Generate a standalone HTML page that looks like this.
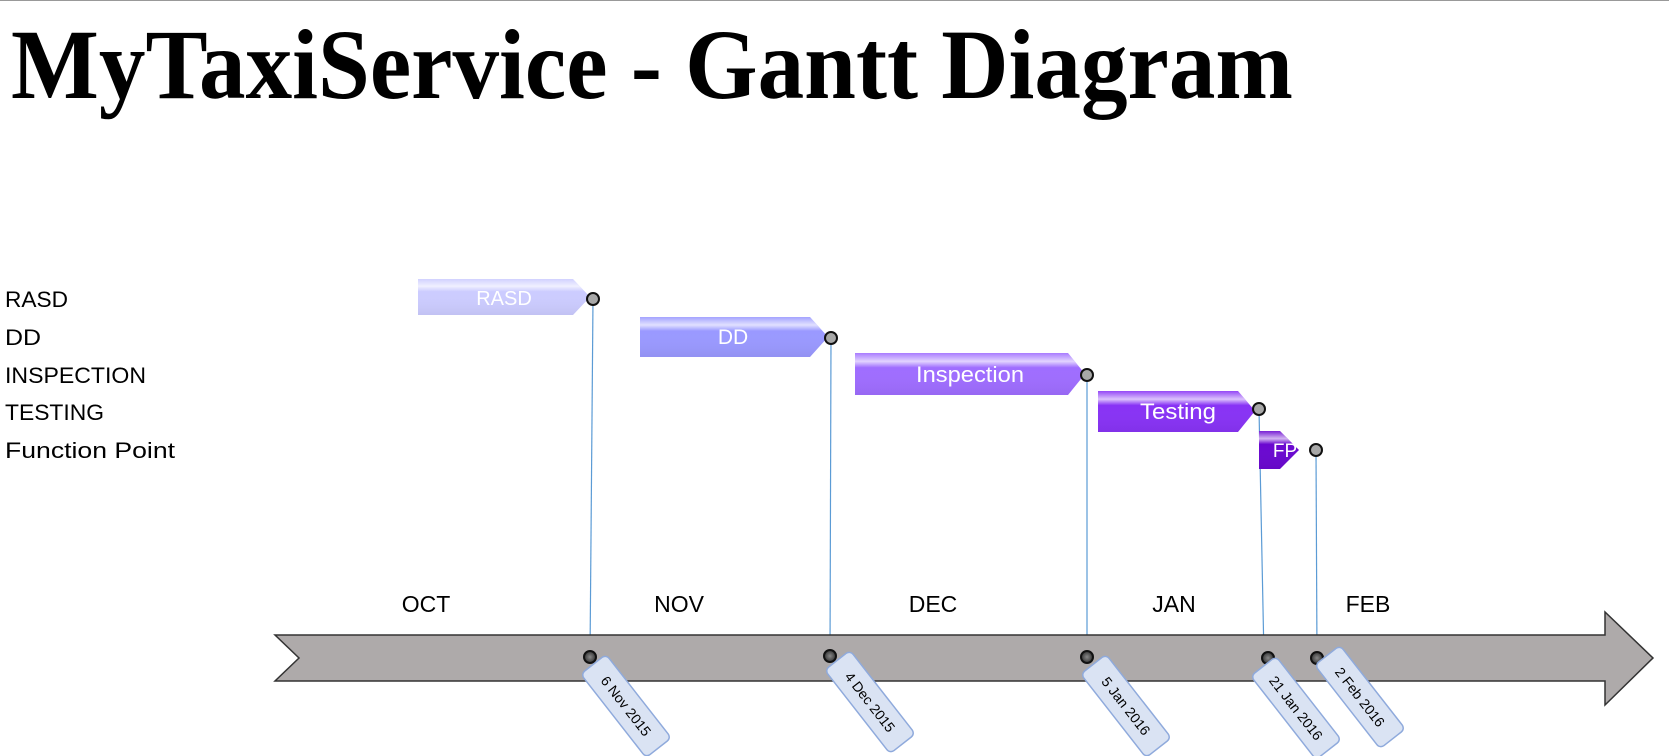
<!DOCTYPE html>
<html><head><meta charset="utf-8"><style>
html,body{margin:0;padding:0;background:#fff;}
svg{display:block;}
</style></head><body>
<svg width="1669" height="756" viewBox="0 0 1669 756" xmlns="http://www.w3.org/2000/svg">
<defs>
<linearGradient id="hl" x1="0" y1="0" x2="0" y2="1">
<stop offset="0" stop-color="#fff" stop-opacity="0.1"/>
<stop offset="0.2" stop-color="#fff" stop-opacity="0.7"/>
<stop offset="0.35" stop-color="#fff" stop-opacity="0"/>
<stop offset="1" stop-color="#000" stop-opacity="0.05"/>
</linearGradient>
<radialGradient id="dot"><stop offset="0" stop-color="#888"/><stop offset="1" stop-color="#333"/></radialGradient>
</defs>
<rect x="0" y="0" width="1669" height="1" fill="#999"/>
<text x="11" y="98" font-family="Liberation Serif, serif" font-weight="bold" font-size="100" textLength="1282" lengthAdjust="spacingAndGlyphs">MyTaxiService - Gantt Diagram</text>

<g font-family="Liberation Sans, sans-serif" font-size="22" fill="#000">
<text x="5" y="307" textLength="63" lengthAdjust="spacingAndGlyphs">RASD</text>
<text x="5" y="345" textLength="36" lengthAdjust="spacingAndGlyphs">DD</text>
<text x="5" y="383" textLength="141" lengthAdjust="spacingAndGlyphs">INSPECTION</text>
<text x="5" y="420" textLength="99" lengthAdjust="spacingAndGlyphs">TESTING</text>
<text x="5" y="458" textLength="170" lengthAdjust="spacingAndGlyphs">Function Point</text>
</g>

<g stroke="#5b9bd5" stroke-width="1.2">
<line x1="593" y1="299" x2="590" y2="657"/>
<line x1="831" y1="338" x2="830" y2="656"/>
<line x1="1087" y1="375" x2="1087" y2="657"/>
<line x1="1259" y1="409" x2="1264" y2="658"/>
<line x1="1316" y1="450" x2="1317" y2="658"/>
</g>

<path d="M275 635 L1605 635 L1605 612 L1653 658 L1605 705 L1605 681 L275 681 L299 658 Z" fill="#aeaaaa" stroke="#333" stroke-width="1.5"/>

<g font-family="Liberation Sans, sans-serif" fill="#fff" text-anchor="middle">
<path d="M418 279 H573 L590 297 L573 315 H418 Z" fill="#ccccff"/>
<path d="M418 279 H573 L590 297 L573 315 H418 Z" fill="url(#hl)"/>
<text x="504" y="305" font-size="20">RASD</text>
<path d="M640 317 H810 L828 337 L810 357 H640 Z" fill="#9a99ff"/>
<path d="M640 317 H810 L828 337 L810 357 H640 Z" fill="url(#hl)"/>
<text x="733" y="344" font-size="21">DD</text>
<path d="M855 353 H1068 L1085 374 L1068 395 H855 Z" fill="#9f6dff"/>
<path d="M855 353 H1068 L1085 374 L1068 395 H855 Z" fill="url(#hl)"/>
<text x="970" y="382" font-size="22" textLength="108" lengthAdjust="spacingAndGlyphs">Inspection</text>
<path d="M1098 391 H1238 L1255 411 L1238 432 H1098 Z" fill="#8833f5"/>
<path d="M1098 391 H1238 L1255 411 L1238 432 H1098 Z" fill="url(#hl)"/>
<text x="1178" y="419" font-size="22" textLength="76" lengthAdjust="spacingAndGlyphs">Testing</text>
<path d="M1259 431 H1280 L1299 450 L1280 469 H1259 Z" fill="#6a08d0"/>
<path d="M1259 431 H1280 L1299 450 L1280 469 H1259 Z" fill="url(#hl)"/>
<text x="1285" y="457" font-size="19">FP</text>
</g>

<g fill="#a8a8a8" stroke="#111" stroke-width="2">
<circle cx="593" cy="299" r="6"/>
<circle cx="831" cy="338" r="6"/>
<circle cx="1087" cy="375" r="6"/>
<circle cx="1259" cy="409" r="6"/>
<circle cx="1316" cy="450" r="6"/>
</g>
<g fill="url(#dot)" stroke="#111" stroke-width="2">
<circle cx="590" cy="657" r="6"/>
<circle cx="830" cy="656" r="6"/>
<circle cx="1087" cy="657" r="6"/>
<circle cx="1268" cy="658" r="6"/>
<circle cx="1317" cy="658" r="6"/>
</g>

<g font-family="Liberation Sans, sans-serif" font-size="23" text-anchor="middle" fill="#000">
<text x="426" y="612">OCT</text>
<text x="679" y="612">NOV</text>
<text x="933" y="612">DEC</text>
<text x="1174" y="612">JAN</text>
<text x="1368" y="612">FEB</text>
</g>

<g font-family="Liberation Sans, sans-serif" font-size="14" text-anchor="middle" fill="#000">
<g transform="translate(626,706) rotate(52)"><rect x="-53" y="-16" width="106" height="32" rx="5" fill="#dae3f3" stroke="#8faadc" stroke-width="1.5"/><text x="0" y="5">6 Nov 2015</text></g>
<g transform="translate(870,702) rotate(52)"><rect x="-53" y="-16" width="106" height="32" rx="5" fill="#dae3f3" stroke="#8faadc" stroke-width="1.5"/><text x="0" y="5">4 Dec 2015</text></g>
<g transform="translate(1126,706) rotate(52)"><rect x="-53" y="-16" width="106" height="32" rx="5" fill="#dae3f3" stroke="#8faadc" stroke-width="1.5"/><text x="0" y="5">5 Jan 2016</text></g>
<g transform="translate(1296,708) rotate(52)"><rect x="-53" y="-16" width="106" height="32" rx="5" fill="#dae3f3" stroke="#8faadc" stroke-width="1.5"/><text x="0" y="5">21 Jan 2016</text></g>
<g transform="translate(1360,697) rotate(52)"><rect x="-53" y="-16" width="106" height="32" rx="5" fill="#dae3f3" stroke="#8faadc" stroke-width="1.5"/><text x="0" y="5">2 Feb 2016</text></g>
</g>
</svg>
</body></html>
